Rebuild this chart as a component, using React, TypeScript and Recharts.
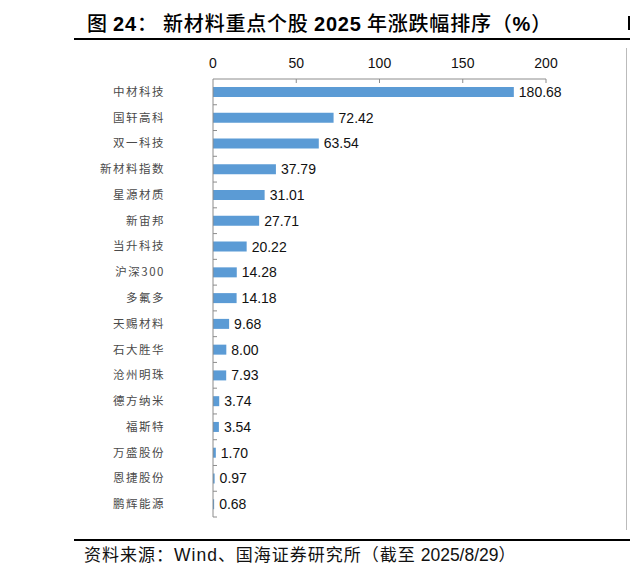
import { Bar, BarChart, LabelList, XAxis, YAxis } from "recharts";

const STOCKS = [
  "中材科技",
  "国轩高科",
  "双一科技",
  "新材料指数",
  "星源材质",
  "新宙邦",
  "当升科技",
  "沪深300",
  "多氟多",
  "天赐材料",
  "石大胜华",
  "沧州明珠",
  "德方纳米",
  "福斯特",
  "万盛股份",
  "恩捷股份",
  "鹏辉能源",
];
const CHANGE_2025 = [
  180.68, 72.42, 63.54, 37.79, 31.01, 27.71, 20.22, 14.28, 14.18, 9.68, 8.0, 7.93, 3.74, 3.54, 1.7, 0.97, 0.68,
];
const X_TICKS = [0, 50, 100, 150, 200];

const data = STOCKS.map((name, i) => ({ name, value: CHANGE_2025[i] }));

const AXIS = "#8c8c8c";
const LATIN = '"Liberation Sans", Arial, "Noto Sans CJK SC", sans-serif';
const CJK = '"Noto Sans CJK SC", "Liberation Sans", sans-serif';

const CHART_H = 577;
const MARGIN = { top: 49, right: 84, left: 63, bottom: 60 };
const X_AXIS_H = 30;
const BAND = (CHART_H - MARGIN.top - MARGIN.bottom - X_AXIS_H) / STOCKS.length;

function CategoryTick(props: any) {
  const { x, y, payload } = props;
  return (
    <g>
      <text x={x - 48} y={y} dy={4} textAnchor="end" fontSize={11.5} fill="#4a4a4a" fontFamily={CJK} letterSpacing={1.5}>
        {payload.value}
      </text>
      <line x1={x} x2={x + 4} y1={y + BAND / 2} y2={y + BAND / 2} stroke={AXIS} />
    </g>
  );
}

function ValueTick(props: any) {
  const { x, y, payload } = props;
  return (
    <g>
      <text x={x} y={y - 11} textAnchor="middle" fontSize={14} fill="#111" fontFamily={LATIN}>
        {payload.value}
      </text>
      {payload.value !== 0 && <line x1={x} x2={x} y1={y} y2={y + 4} stroke={AXIS} />}
    </g>
  );
}

const B = (s: string) => <span style={{ fontFamily: LATIN, fontWeight: 700 }}>{s}</span>;

export default function App() {
  return (
    <div style={{ position: "absolute", left: 0, top: 0, width: 630, height: 577, background: "#fff", overflow: "hidden" }}>
      <div
        style={{
          position: "absolute",
          left: 87,
          top: 10,
          fontFamily: CJK,
          fontWeight: 500,
          fontSize: 20,
          letterSpacing: 0.8,
          color: "#000",
          whiteSpace: "nowrap",
          lineHeight: "26px",
        }}
      >
        图 {B("24")}： 新材料重点个股 {B("2025")} 年涨跌幅排序（{B("%")}）
      </div>
      <div style={{ position: "absolute", left: 74, top: 38, width: 556, height: 2, background: "#000" }} />
      <div style={{ position: "absolute", left: 626, top: 48, width: 1, height: 482, background: "#bbb" }} />
      <div style={{ position: "absolute", left: 628, top: 16, width: 2, height: 14, background: "#000" }} />

      <div style={{ position: "absolute", left: 0, top: 0 }}>
        <BarChart width={630} height={CHART_H} data={data} layout="vertical" margin={MARGIN}>
          <XAxis
            type="number"
            orientation="top"
            domain={[0, 200]}
            ticks={X_TICKS}
            height={X_AXIS_H}
            axisLine={{ stroke: AXIS }}
            tickLine={false}
            tickSize={0}
            tickMargin={0}
            tick={<ValueTick />}
            interval={0}
          />
          <YAxis
            type="category"
            dataKey="name"
            width={150}
            axisLine={{ stroke: AXIS }}
            tickLine={false}
            tickSize={0}
            tickMargin={0}
            tick={<CategoryTick />}
            interval={0}
          />
          <Bar dataKey="value" fill="#5b9bd5" barSize={10} isAnimationActive={false}>
            <LabelList
              dataKey="value"
              position="right"
              offset={5}
              formatter={(v: any) => Number(v).toFixed(2)}
              style={{ fill: "#111", fontSize: 14, fontFamily: LATIN }}
            />
          </Bar>
        </BarChart>
      </div>

      <div style={{ position: "absolute", left: 74, top: 539, width: 556, height: 1.5, background: "#000" }} />
      <div
        style={{
          position: "absolute",
          left: 84,
          top: 543,
          fontFamily: CJK,
          fontSize: 17,
          letterSpacing: 1,
          color: "#111",
          whiteSpace: "nowrap",
          lineHeight: "22px",
        }}
      >
        资料来源：<span style={{ fontFamily: LATIN, fontSize: 17.5 }}>Wind</span>、国海证券研究所（截至{" "}
        <span style={{ fontFamily: LATIN, fontSize: 17.5, letterSpacing: 0 }}>2025/8/29</span>）
      </div>
    </div>
  );
}
